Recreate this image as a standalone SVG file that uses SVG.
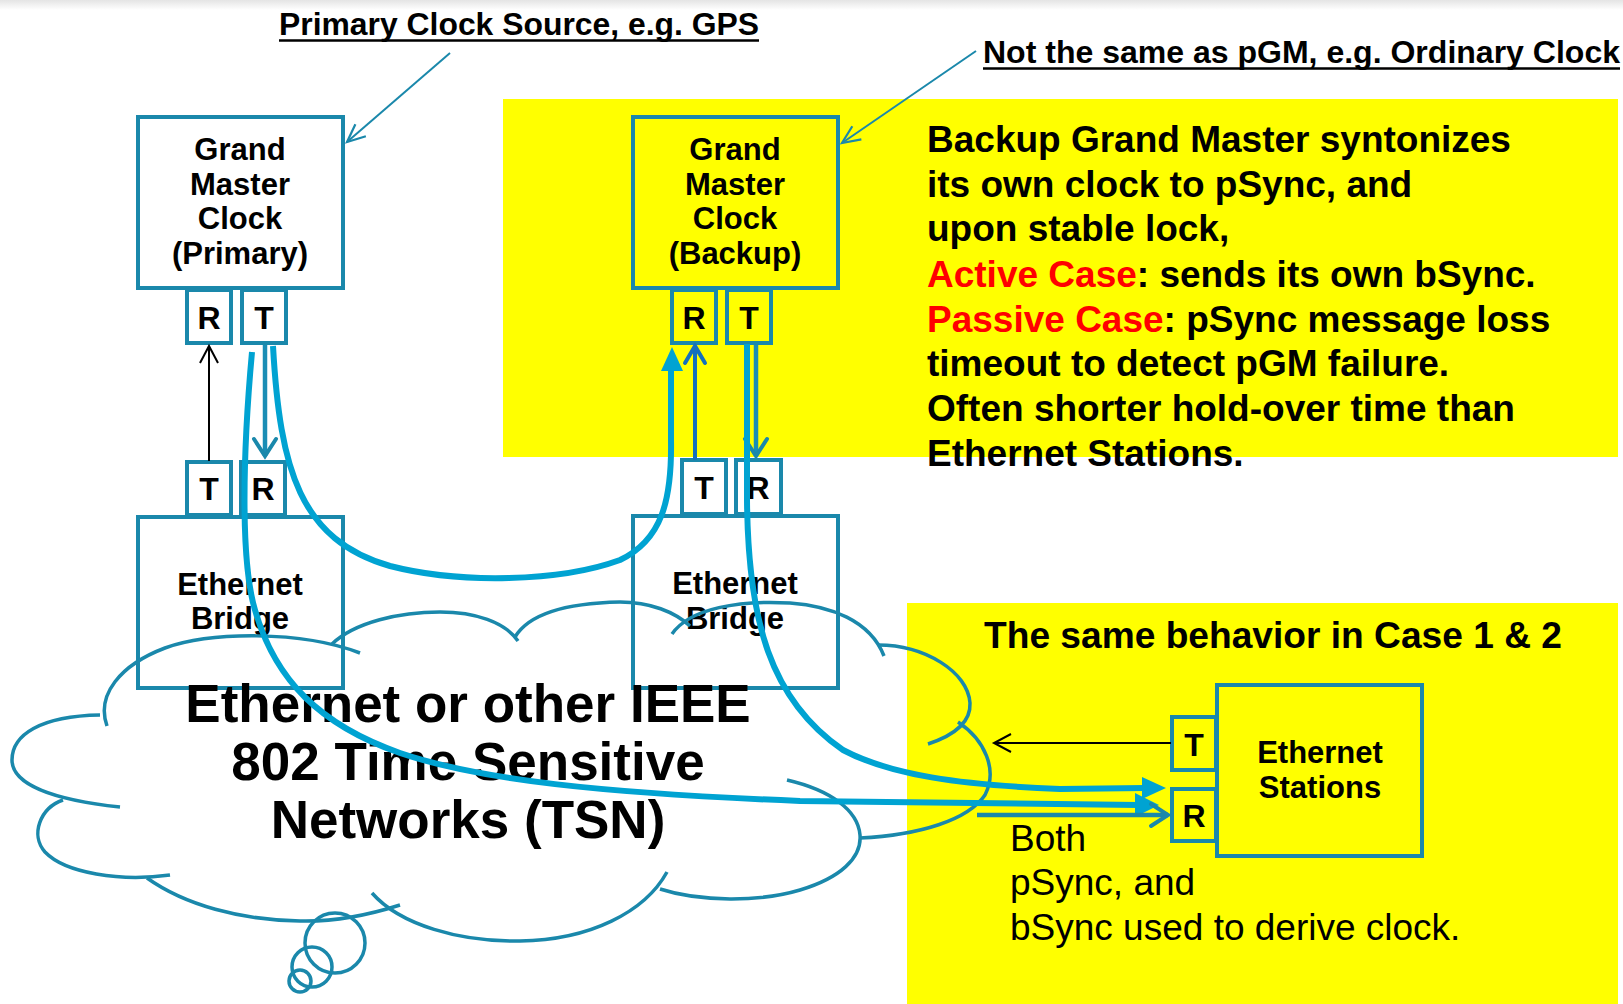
<svg xmlns="http://www.w3.org/2000/svg" width="1623" height="1004" viewBox="0 0 1623 1004">
  <defs>
    <linearGradient id="topShade" x1="0" y1="0" x2="0" y2="1">
      <stop offset="0" stop-color="#e4e4e4"/>
      <stop offset="1" stop-color="#ffffff"/>
    </linearGradient>
    <marker id="vBlack" markerUnits="userSpaceOnUse" markerWidth="20" markerHeight="20" orient="auto" overflow="visible">
      <path d="M-17,-9 L0,0 L-17,9" fill="none" stroke="#000" stroke-width="2"/>
    </marker>
    <marker id="vTeal" markerUnits="userSpaceOnUse" markerWidth="20" markerHeight="20" orient="auto" overflow="visible">
      <path d="M-18,-8 L0,0 L-18,8" fill="none" stroke="#1a88ab" stroke-width="2.2"/>
    </marker>
    <marker id="vTealBold" markerUnits="userSpaceOnUse" markerWidth="20" markerHeight="20" orient="auto" overflow="visible">
      <path d="M-17,-11 L0,0 L-17,11" fill="none" stroke="#1a88ab" stroke-width="4" stroke-linecap="round"/>
    </marker>
    <marker id="vBlue" markerUnits="userSpaceOnUse" markerWidth="20" markerHeight="20" orient="auto" overflow="visible">
      <path d="M-17,-10 L0,0 L-17,10" fill="none" stroke="#1570bd" stroke-width="4" stroke-linecap="round"/>
    </marker>
  </defs>
  <style>
    .box { fill: none; stroke: #1a88ab; stroke-width: 4; }
    .cloud { fill: none; stroke: #1a88ab; stroke-width: 3.5; stroke-linecap: butt; }
    .lbl { font-family: "Liberation Sans", Arial, sans-serif; font-weight: bold; font-size: 31px; fill: #000; text-anchor: middle; }
    .port { font-family: "Liberation Sans", Arial, sans-serif; font-weight: bold; font-size: 32px; fill: #000; text-anchor: middle; }
    .note { font-family: "Liberation Sans", Arial, sans-serif; font-weight: bold; font-size: 37px; fill: #000; }
    .plain { font-family: "Liberation Sans", Arial, sans-serif; font-size: 37px; fill: #000; }
    .title { font-family: "Liberation Sans", Arial, sans-serif; font-weight: bold; font-size: 32px; fill: #000; }
    .big { font-family: "Liberation Sans", Arial, sans-serif; font-weight: bold; font-size: 53px; fill: #000; text-anchor: middle; }
    .red { fill: #ff0000; }
    .flow { fill: none; stroke: #00a3d2; stroke-width: 6; }
    .head { fill: #00a3d2; }
  </style>

  <!-- background -->
  <rect x="0" y="0" width="1623" height="1004" fill="#ffffff"/>
  <rect x="0" y="0" width="1623" height="10" fill="url(#topShade)"/>

  <!-- highlighted areas -->
  <rect x="503" y="99" width="1115" height="358" fill="#ffff00"/>
  <rect x="907" y="603" width="711" height="401" fill="#ffff00"/>

  <!-- annotations -->
  <g id="note-primary-source">
    <text class="title" x="279" y="35" textLength="480" lengthAdjust="spacingAndGlyphs">Primary Clock Source, e.g. GPS</text>
    <line x1="279" y1="40.5" x2="759" y2="40.5" stroke="#000" stroke-width="2.6"/>
  </g>
  <g id="note-backup-source">
    <text class="title" x="983" y="63" textLength="637" lengthAdjust="spacingAndGlyphs">Not the same as pGM, e.g. Ordinary Clock</text>
    <line x1="983" y1="68.5" x2="1620" y2="68.5" stroke="#000" stroke-width="2.6"/>
  </g>
  <g id="note-backup-behavior">
    <text class="note" x="927" y="152">Backup Grand Master syntonizes</text>
    <text class="note" x="927" y="197">its own clock to pSync, and</text>
    <text class="note" x="927" y="241">upon stable lock,</text>
    <text class="note" x="927" y="287"><tspan class="red">Active Case</tspan>: sends its own bSync.</text>
    <text class="note" x="927" y="332"><tspan class="red">Passive Case</tspan>: pSync message loss</text>
    <text class="note" x="927" y="376">timeout to detect pGM failure.</text>
    <text class="note" x="927" y="421">Often shorter hold-over time than</text>
    <text class="note" x="927" y="466">Ethernet Stations.</text>
  </g>
  <g id="note-stations">
    <text class="note" x="984" y="648" textLength="578" lengthAdjust="spacingAndGlyphs">The same behavior in Case 1 &amp; 2</text>
    <text class="plain" x="1010" y="851">Both</text>
    <text class="plain" x="1010" y="895">pSync, and</text>
    <text class="plain" x="1010" y="940">bSync used to derive clock.</text>
  </g>

  <!-- Grand Master (primary) -->
  <g id="gm-primary">
    <rect class="box" x="138" y="117" width="205" height="171"/>
    <text class="lbl" x="240" y="160">Grand</text>
    <text class="lbl" x="240" y="195">Master</text>
    <text class="lbl" x="240" y="229">Clock</text>
    <text class="lbl" x="240" y="264">(Primary)</text>
    <rect class="box" x="187" y="290" width="44" height="53"/>
    <text class="port" x="209" y="329">R</text>
    <rect class="box" x="242" y="290" width="44" height="53"/>
    <text class="port" x="264" y="329">T</text>
  </g>

  <!-- Grand Master (backup) -->
  <g id="gm-backup">
    <rect class="box" x="633" y="117" width="205" height="171"/>
    <text class="lbl" x="735" y="160">Grand</text>
    <text class="lbl" x="735" y="195">Master</text>
    <text class="lbl" x="735" y="229">Clock</text>
    <text class="lbl" x="735" y="264">(Backup)</text>
    <rect class="box" x="672" y="290" width="44" height="53"/>
    <text class="port" x="694" y="329">R</text>
    <rect class="box" x="727" y="290" width="44" height="53"/>
    <text class="port" x="749" y="329">T</text>
  </g>

  <!-- Ethernet bridge (left) -->
  <g id="bridge-left">
    <rect class="box" x="187" y="462" width="44" height="53"/>
    <text class="port" x="209" y="500">T</text>
    <rect class="box" x="241" y="462" width="44" height="53"/>
    <text class="port" x="263" y="500">R</text>
    <rect class="box" x="138" y="517" width="205" height="171"/>
    <text class="lbl" x="240" y="595">Ethernet</text>
    <text class="lbl" x="240" y="629">Bridge</text>
  </g>

  <!-- Ethernet bridge (right) -->
  <g id="bridge-right">
    <rect class="box" x="682" y="460" width="44" height="54"/>
    <text class="port" x="704" y="499">T</text>
    <rect class="box" x="736" y="460" width="45" height="54"/>
    <text class="port" x="758" y="499">R</text>
    <rect class="box" x="633" y="516" width="205" height="172"/>
    <text class="lbl" x="735" y="594">Ethernet</text>
    <text class="lbl" x="735" y="629">Bridge</text>
  </g>

  <!-- Ethernet stations -->
  <g id="stations">
    <rect class="box" x="1217" y="685" width="205" height="171"/>
    <text class="lbl" x="1320" y="763">Ethernet</text>
    <text class="lbl" x="1320" y="798">Stations</text>
    <rect class="box" x="1172" y="717" width="44" height="53"/>
    <text class="port" x="1194" y="756">T</text>
    <rect class="box" x="1172" y="789" width="44" height="52"/>
    <text class="port" x="1194" y="827">R</text>
  </g>

  <!-- network cloud -->
  <g id="tsn-cloud">
    <path class="cloud" d="M107,726 C96,695 120,665 165,648 C210,632 300,630 360,653"/>
    <path class="cloud" d="M332,644 C355,622 400,612 440,612 C475,612 505,622 518,641"/>
    <path class="cloud" d="M515,637 C530,612 570,603 620,602 C650,602 675,612 690,626"/>
    <path class="cloud" d="M672,634 C690,608 740,600 790,603 C830,606 870,620 884,656"/>
    <path class="cloud" d="M878,645 C925,645 968,672 970,703 C971,722 955,735 928,744"/>
    <path class="cloud" d="M958,722 C985,740 998,770 985,795 C968,820 920,835 860,838"/>
    <path class="cloud" d="M787,780 C830,790 858,810 860,835 C862,858 840,878 800,890 C760,902 700,902 660,889"/>
    <path class="cloud" d="M667,872 C645,912 590,940 520,941 C460,942 400,925 372,893"/>
    <path class="cloud" d="M400,905 C375,913 340,922 300,921 C240,920 185,905 147,878"/>
    <path class="cloud" d="M170,875 C120,882 65,873 45,852 C30,835 40,808 63,800"/>
    <path class="cloud" d="M120,807 C55,800 12,785 12,760 C12,735 40,716 100,715"/>
    <circle class="cloud" cx="335" cy="943" r="30"/>
    <circle class="cloud" cx="312" cy="967" r="20"/>
    <circle class="cloud" cx="300" cy="981" r="11"/>
    <text class="big" x="468" y="722">Ethernet or other IEEE</text>
    <text class="big" x="468" y="780">802 Time Sensitive</text>
    <text class="big" x="468" y="838">Networks (TSN)</text>
  </g>

  <!-- sync message paths -->
  <g id="connectors">
    <!-- pointers from the annotations -->
    <line x1="450" y1="53" x2="347" y2="142" stroke="#1a88ab" stroke-width="2" marker-end="url(#vTeal)"/>
    <line x1="976" y1="51" x2="842" y2="143" stroke="#1a88ab" stroke-width="2" marker-end="url(#vTeal)"/>

    <!-- bridge T to primary GM R -->
    <line x1="209" y1="461" x2="209" y2="346" stroke="#000" stroke-width="2" marker-end="url(#vBlack)"/>
    <!-- pSync: primary T to left bridge R -->
    <line x1="265" y1="345" x2="265" y2="456" stroke="#1a8db5" stroke-width="4.5" marker-end="url(#vTealBold)"/>
    <!-- pSync: primary T to backup GM R -->
    <path class="flow" d="M273,346 C280,470 300,540 390,566 C460,584 560,582 620,560 C662,540 672,500 671,440 L671,366"/>
    <polygon class="head" points="672,347 661,371 683,371"/>
    <!-- pSync: primary T to stations R -->
    <path class="flow" d="M252,352 C243,450 240,560 255,610 C275,680 320,725 400,753 C480,780 600,793 800,801 L1138,805"/>
    <polygon class="head" points="1159,805 1135,793 1135,817"/>
    <!-- right bridge T to backup GM R -->
    <line x1="695" y1="460" x2="695" y2="346" stroke="#1570bd" stroke-width="4" marker-end="url(#vBlue)"/>
    <!-- bSync: backup T to right bridge R -->
    <line x1="756" y1="345" x2="756" y2="456" stroke="#1a8db5" stroke-width="4.5" marker-end="url(#vTealBold)"/>
    <!-- bSync: backup T to stations R -->
    <path class="flow" d="M747,344 L747,500 C748,620 770,700 843,750 C890,775 960,785 1060,789 L1145,788"/>
    <polygon class="head" points="1166,788 1142,777 1142,799"/>
    <!-- stations T out, and incoming sync to stations R -->
    <line x1="1171" y1="743" x2="994" y2="743" stroke="#000" stroke-width="2" marker-end="url(#vBlack)"/>
    <line x1="977" y1="815" x2="1168" y2="815" stroke="#1a88ab" stroke-width="4.5" marker-end="url(#vTealBold)"/>
  </g>
</svg>
